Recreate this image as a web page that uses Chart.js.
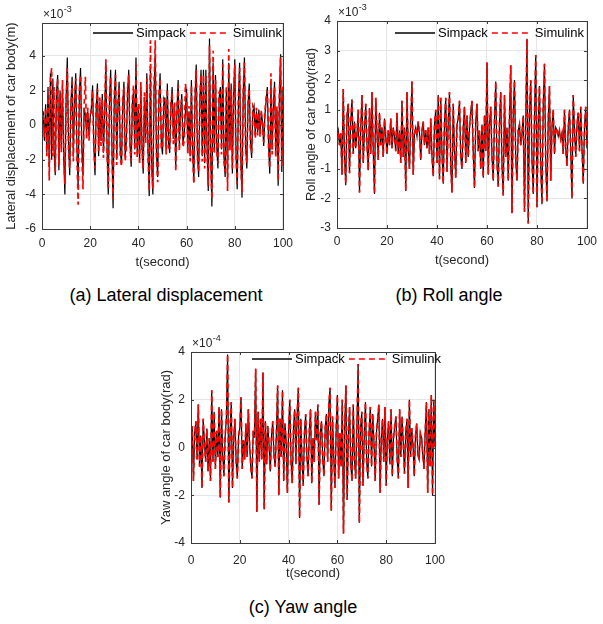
<!DOCTYPE html>
<html><head><meta charset="utf-8">
<script src="https://cdn.jsdelivr.net/npm/chart.js@4"></script>
<style>
html,body{margin:0;padding:0;background:#fff;width:603px;height:624px;overflow:hidden;}
.box{position:absolute;}
.cap{position:absolute;font-family:'Liberation Sans Narrow','Liberation Sans',Arial,sans-serif;font-size:18px;line-height:20px;color:#000;white-space:nowrap;transform:translateX(-50%);}
</style></head><body>
<div class="box" style="left:0;top:0;width:300px;height:275px"><canvas id="ca"></canvas></div>
<div class="box" style="left:300px;top:0;width:303px;height:275px"><canvas id="cb"></canvas></div>
<div class="box" style="left:155px;top:320px;width:300px;height:265px"><canvas id="cc"></canvas></div>
<div class="cap" style="left:166px;top:285px">(a) Lateral displacement</div>
<div class="cap" style="left:449px;top:285px">(b) Roll angle</div>
<div class="cap" style="left:303px;top:597px">(c) Yaw angle</div>
<script>
// time axis: samples every 0.5 s from 0 to 100 s
const timeStep = 0.5;
const xTicks = [0, 20, 40, 60, 80, 100];
const legendLabels = ['Simpack', 'Simulink'];

// (a) lateral displacement, x10^-3 m
const aTicks = [-6, -4, -2, 0, 2, 4];
const aSimpack = [
 0, 0.8, -0.9, 1.2, -1.6, 2.2, -2.4, 3.0, -2.0, 2.7, -1.5, -2.9, 1.8, 2.9, -2.6, 2.0, -1.2, 2.3, -1.8, -4.0,
 1.5, 3.9, -1.0, -2.9, 1.2, 2.8, -1.8, 1.2, 3.0, -1.4, -3.5, 1.8, 3.3, -1.2, -2.9, 1.0, 0.6, -0.4, 0.8, -0.6,
 0.5, 1.0, 2.3, -1.2, -2.9, 1.0, 2.4, -1.8, 1.3, -0.9, 1.8, -1.6, 0.6, 3.6, -1.4, -4.0, 1.4, 3.2, -1.2, -4.8,
 1.5, 3.2, -2.0, 1.0, 2.5, -1.6, -2.2, 1.2, 2.5, -1.8, -1.0, 1.8, 3.2, -1.0, -2.4, 1.2, 2.0, -1.4, 3.9, -1.6,
 1.0, -2.0, 2.2, -1.2, -2.8, 1.6, -0.8, 3.0, -1.5, -4.1, 3.5, -2.2, -4.0, 2.0, 4.1, -1.6, -3.0, 1.4, 3.0, -1.0,
 -1.7, 1.2, 1.6, -1.4, 2.4, -1.0, -1.6, 1.0, 2.2, -0.8, 1.0, -2.4, 0.8, 2.6, -1.2, 0.8, 1.8, -1.0, -0.6, 0.8,
 2.1, -1.4, 0.8, -1.8, 2.6, -1.4, -3.3, 1.6, 3.5, -1.6, -3.0, 1.4, 3.2, -1.8, 3.2, -2.2, 3.2, -1.4, -3.8, 5.0,
 -1.8, -4.7, 3.6, -1.4, 2.9, -1.2, -2.5, 1.6, 2.2, -1.4, 3.8, -1.8, -3.0, 2.0, -3.2, 3.6, -1.2, 2.4, -2.8, 1.6,
 3.8, -1.6, -3.7, 1.4, 3.6, -2.0, -4.2, 1.8, 3.9, -1.2, -2.5, 1.2, 2.4, -1.0, -1.9, 0.8, 1.1, -0.6, 0.8, -0.4,
 0.9, -0.5, 0.7, 0.2, -1.2, 0.6, 1.4, 2.2, -1.0, -2.8, 2.4, -1.4, 1.0, 2.5, -1.6, 0.8, -3.5, 1.6, 4.1, -2.7,
 2.1
];
const aSimulink = [
 0.1, 0.6, -0.7, 1.0, -1.8, 1.9, -3.2, 2.6, 3.3, -1.8, 2.2, -2.7, 1.5, 2.7, -2.3, 1.8, -1.6, 2.6, -1.4, -3.4,
 1.2, 3.3, -1.4, -2.5, 1.0, 2.5, -2.1, 1.4, 2.7, -1.8, -4.6, 2.0, 2.9, -1.6, -3.7, 1.2, 2.8, -0.8, 1.0, -0.9,
 0.6, 0.8, 2.0, -1.4, -2.5, 1.2, 2.1, -1.5, 1.6, -1.2, 1.5, -1.9, 0.8, 3.8, -1.6, -3.6, 1.7, 2.8, -1.5, -4.3,
 1.8, 2.9, -2.3, 1.3, 2.2, -1.9, -2.4, 1.5, 2.2, -2.1, -1.3, 2.1, 2.9, -1.3, -2.1, 1.5, 2.3, -1.7, 3.5, -1.9,
 1.3, -2.3, 2.5, -1.5, -2.5, 1.9, -1.1, 2.7, -1.8, -3.8, 4.9, -2.5, -3.7, 2.3, 4.9, -1.9, -3.3, 1.7, 2.7, -1.3,
 -1.4, 1.5, 1.3, -1.7, 2.1, -1.3, -1.3, 1.3, 1.9, -1.1, 1.3, -2.7, 1.1, 2.3, -1.5, 1.1, 1.5, -1.3, -0.9, 2.4,
 1.8, -1.7, 1.1, -2.1, 2.3, -1.7, -3.4, 1.9, 3.2, -1.9, -2.7, 1.7, 2.9, -2.1, 2.9, -2.5, 2.9, -1.7, -3.5, 4.6,
 -2.1, -4.3, 4.3, -1.7, 2.6, -1.5, -2.2, 1.9, 1.9, -1.7, 3.5, -2.1, -2.7, 2.3, -3.8, 4.4, -1.5, 2.1, -2.5, 1.9,
 3.5, -1.9, -3.4, 1.7, 3.3, -2.3, -3.9, 2.1, 3.6, -1.5, -2.2, 1.5, 2.1, -1.3, -1.6, 1.1, 0.9, -0.8, 1.0, -0.6,
 0.7, -0.7, 0.9, 0.0, -1.0, 0.8, 1.6, 2.0, -1.3, -2.5, 3.0, -1.7, 1.3, 2.2, -1.9, 1.1, -3.2, 1.9, 3.9, -2.4,
 2.3
];

// (b) roll angle, x10^-3 rad
const bTicks = [-3, -2, -1, 0, 1, 2, 3, 4];
const bSimpack = [
 0.1, 0.3, -0.2, 0.2, -1.2, 1.7, -0.6, -1.55, 0.8, 1.2, -1.15, 0.6, 1.35, -0.5, 0.6, -0.3, 0.2, 1.0, -1.8, 0.4,
 1.5, -0.8, 0.3, 1.2, -0.2, -1.05, 1.05, -0.5, 1.6, -0.4, -1.85, 1.4, 0.2, -0.7, 0.9, -0.2, 0.4, -0.6, 0.7, 0.1,
 -0.5, 0.3, -0.2, 0.7, -0.3, 0.4, 0.1, -0.4, 0.9, -0.5, 0.3, -0.8, 1.3, -0.6, 0.4, -1.75, 1.6, -0.4, -1.0, 0.6,
 1.95, -1.2, 0.2, 0.4, 0.1, 0.6, 0.2, -0.7, 0.3, 0.6, -0.2, 0.3, -0.3, 0.4, -0.5, 0.7, -0.6, -1.25, 0.5, 1.0,
 -0.8, 1.5, -1.35, 1.4, -0.5, -1.5, 0.6, 1.4, -1.1, 0.6, 1.6, -0.9, -1.8, 1.2, -0.4, -1.3, 0.5, 0.7, 1.3, -0.6,
 -1.0, 0.4, 1.1, -0.8, 0.8, -0.6, 0.4, 0.9, 1.3, -0.5, -1.65, 0.6, 1.2, -0.4, 0.3, -1.0, 0.5, -1.3, 0.8, -0.4,
 2.6, -1.2, 0.5, 1.1, -0.6, -1.4, 0.7, 1.95, -0.8, -1.6, 0.6, 1.6, -0.9, -1.9, 1.5, -0.6, 0.4, -1.4, 0.8, 2.5,
 -2.5, 0.9, 2.0, -0.7, -1.4, 0.3, 0.5, -0.2, 0.2, 0.8, -2.45, 0.6, 3.4, -2.85, 0.9, 2.0, -0.7, -1.85, 0.8, 2.85,
 -2.3, 0.5, 1.8, -0.9, -2.2, 1.2, 2.55, -0.8, -2.1, 0.7, 1.8, -1.4, 0.4, 1.0, -0.5, 0.4, 0.3, 0.1, 0.3, 0.0,
 0.2, -0.5, 1.0, -0.3, -0.9, 0.4, 1.0, -0.4, -2.0, 1.5, 0.3, -0.6, 0.5, 0.9, -0.4, 1.1, -0.3, -1.5, 0.4, 1.1,
 -0.3
];
const bSimulink = [
 0.1, 0.3, -0.2, 0.25, -1.2, 1.7, -0.6, -1.5, 0.8, 1.2, -1.15, 0.6, 1.3, -0.5, 0.6, -0.3, 0.2, 1.0, -1.8, 0.4,
 1.5, -0.8, 0.3, 1.2, -0.2, -1.05, 1.05, -0.5, 1.6, -0.4, -1.85, 1.4, 0.2, -0.7, 0.9, -0.2, 0.4, -0.6, 0.7, 0.1,
 -0.5, 0.3, -0.2, 0.7, -0.3, 0.4, 0.1, -0.4, 0.9, -0.5, 0.3, -0.8, 1.3, -0.6, 0.4, -1.75, 1.6, -0.4, -1.0, 0.6,
 1.95, -1.2, 0.2, 0.4, 0.1, 0.6, 0.2, -0.7, 0.3, 0.6, -0.2, 0.3, -0.3, 0.4, -0.5, 0.7, -0.6, -1.25, 0.5, 1.0,
 -0.8, 1.5, -1.35, 1.4, -0.5, -1.5, 0.6, 1.4, -1.1, 0.6, 1.6, -0.9, -1.8, 1.2, -0.4, -1.3, 0.5, 0.7, 1.3, -0.6,
 -1.0, 0.4, 1.1, -0.8, 0.8, -0.6, 0.4, 0.9, 1.3, -0.5, -1.65, 0.6, 1.2, -0.4, 0.3, -1.0, 0.5, -1.3, 0.8, -0.4,
 2.6, -1.2, 0.5, 1.1, -0.6, -1.4, 0.7, 1.95, -0.8, -1.6, 0.6, 1.6, -0.9, -1.9, 1.5, -0.6, 0.4, -1.4, 0.8, 2.5,
 -2.5, 0.9, 2.0, -0.7, -1.4, 0.3, 0.5, -0.2, 0.2, 0.8, -2.45, 0.6, 3.4, -2.85, 0.9, 2.0, -0.7, -1.85, 0.8, 2.85,
 -2.3, 0.5, 1.8, -0.9, -2.2, 1.2, 2.55, -0.8, -2.1, 0.7, 1.8, -1.4, 0.4, 1.0, -0.5, 0.4, 0.3, 0.1, 0.3, 0.0,
 0.2, -0.5, 1.0, -0.3, -0.9, 0.4, 1.0, -0.4, -2.0, 1.5, 0.3, -0.6, 0.5, 0.9, -0.4, 1.1, -0.3, -1.5, 0.4, 1.1,
 -0.3
];

// (c) yaw angle, x10^-4 rad
const cTicks = [-4, -2, 0, 2, 4];
const cSimpack = [
 0.0, 0.9, -1.4, 0.6, 1.1, -0.5, 1.8, -0.8, 0.5, -1.7, 1.2, 0.2, -0.6, 0.8, -1.0, 0.4, -1.4, 2.4, -0.6, 1.5,
 -0.9, 0.7, -0.4, 1.7, -2.1, 1.6, -0.3, -1.2, 0.5, 1.2, 3.9, -2.3, 0.6, 1.9, -1.7, 0.4, 1.2, -0.6, -1.3, 0.5,
 0.8, 2.1, -0.9, 0.3, -0.5, 1.0, -0.4, 1.6, 0.2, -0.8, -1.3, 0.7, 0.4, 3.3, -2.7, 1.5, -0.6, 1.2, -0.5, 3.15,
 -2.6, 1.1, -0.7, 0.9, 0.1, -1.0, 0.5, 1.1, -0.3, -0.8, 0.6, 2.6, -2.0, 1.2, -0.4, 2.4, -1.4, 1.0, 0.3, -1.9,
 0.7, 2.0, -0.6, -1.5, 0.8, 1.6, -0.7, 1.4, 2.5, -2.95, 1.2, -0.5, -1.6, 0.6, 1.4, -0.4, -1.2, 0.7, 1.6, -1.5,
 0.4, -0.6, 1.5, 0.3, 1.8, -2.4, 0.6, 1.1, -0.5, -1.2, 0.8, 1.4, -0.6, 1.8, 2.5, -2.65, 1.3, -0.4, -1.7, 0.8,
 2.2, -1.3, 0.6, -0.8, 2.0, -3.6, 0.9, 2.6, -2.2, 0.5, 1.7, -0.7, -1.4, 1.8, -0.5, -1.3, 0.9, 3.5, -3.15, 0.8,
 1.5, -1.6, 0.4, 1.9, -0.6, -1.3, 0.7, 1.7, -0.8, 1.4, 0.2, -1.4, 0.6, 1.2, 1.8, -1.9, 0.4, 1.2, -0.6, 1.7,
 -1.6, 0.5, 1.1, -0.7, 1.6, -1.2, 0.4, 0.9, 1.3, -0.5, -1.3, 1.6, -0.4, 1.3, 0.2, -1.1, 0.6, 1.2, -1.7, 2.0,
 -0.4, 0.8, 0.1, -1.2, 0.5, 1.0, -0.3, -0.5, 0.6, 0.4, -0.3, -0.9, 0.7, 1.9, -1.9, 1.6, -0.8, 2.2, -2.0, 2.0,
 0.0
];
const cSimulink = [
 0.0, 0.9, -1.4, 0.6, 1.1, -0.5, 1.8, -0.8, 0.5, -1.7, 1.2, 0.2, -0.6, 0.8, -1.0, 0.4, -1.4, 2.4, -0.6, 1.5,
 -0.9, 0.7, -0.4, 1.7, -2.1, 1.6, -0.3, -1.2, 0.5, 1.2, 3.9, -2.3, 0.6, 1.9, -1.7, 0.4, 1.2, -0.6, -1.3, 0.5,
 0.8, 2.1, -0.9, 0.3, -0.5, 1.0, -0.4, 1.6, 0.2, -0.8, -1.3, 0.7, 0.4, 3.3, -2.7, 1.5, -0.6, 1.2, -0.5, 3.15,
 -2.6, 1.1, -0.7, 0.9, 0.1, -1.0, 0.5, 1.1, -0.3, -0.8, 0.6, 2.6, -2.0, 1.2, -0.4, 2.4, -1.4, 1.0, 0.3, -1.9,
 0.7, 2.0, -0.6, -1.5, 0.8, 1.6, -0.7, 1.4, 2.5, -2.95, 1.2, -0.5, -1.6, 0.6, 1.4, -0.4, -1.2, 0.7, 1.6, -1.5,
 0.4, -0.6, 1.5, 0.3, 1.8, -2.4, 0.6, 1.1, -0.5, -1.2, 0.8, 1.4, -0.6, 1.8, 2.5, -2.65, 1.3, -0.4, -1.7, 0.8,
 2.2, -1.3, 0.6, -0.8, 2.0, -3.6, 0.9, 2.6, -2.2, 0.5, 1.7, -0.7, -1.4, 1.8, -0.5, -1.3, 0.9, 3.5, -3.15, 0.8,
 1.5, -1.6, 0.4, 1.9, -0.6, -1.3, 0.7, 1.7, -0.8, 1.4, 0.2, -1.4, 0.6, 1.2, 1.8, -1.9, 0.4, 1.2, -0.6, 1.7,
 -1.6, 0.5, 1.1, -0.7, 1.6, -1.2, 0.4, 0.9, 1.3, -0.5, -1.3, 1.6, -0.4, 1.3, 0.2, -1.1, 0.6, 1.2, -1.7, 2.0,
 -0.4, 0.8, 0.1, -1.2, 0.5, 1.0, -0.3, -0.5, 0.6, 0.4, -0.3, -0.9, 0.7, 1.9, -1.9, 1.6, -0.8, 2.2, -2.0, 2.0,
 0.0
];

const FONT = "'Liberation Sans', Arial, Helvetica, sans-serif";
const AXC = '#262626';

const framePlugin = {
  id: 'frame',
  afterDraw(chart, args, o) {
    const {ctx, chartArea: a} = chart;
    const xs = chart.scales.x, ys = chart.scales.y;
    ctx.save();
    ctx.strokeStyle = '#3a3a3a';
    ctx.lineWidth = 1;
    ctx.beginPath();
    xs.ticks.forEach(t => {
      const p = Math.round(xs.getPixelForValue(t.value)) + 0.5;
      ctx.moveTo(p, a.bottom); ctx.lineTo(p, a.bottom - 3);
      ctx.moveTo(p, a.top); ctx.lineTo(p, a.top + 3);
    });
    ys.ticks.forEach(t => {
      const p = Math.round(ys.getPixelForValue(t.value)) + 0.5;
      ctx.moveTo(a.left, p); ctx.lineTo(a.left + 3, p);
      ctx.moveTo(a.right, p); ctx.lineTo(a.right - 3, p);
    });
    ctx.stroke();
    ctx.strokeRect(Math.round(a.left) + 0.5, Math.round(a.top) + 0.5,
                   Math.round(a.right - a.left), Math.round(a.bottom - a.top));
    // exponent label
    ctx.fillStyle = AXC;
    ctx.textBaseline = 'middle';
    ctx.textAlign = 'left';
    ctx.font = '12px ' + FONT;
    const ex = a.left + 1, ey = a.top - 8;
    ctx.fillText('\u00d710', ex, ey);
    const w = ctx.measureText('\u00d710').width;
    ctx.font = '9px ' + FONT;
    ctx.fillText(o.exp, ex + w + 0.5, ey - 5);
    // legend
    const ly = a.top + o.ldy;
    let lx = a.left + o.ldx;
    ctx.font = '13px ' + FONT;
    ctx.fillStyle = '#000';
    ctx.lineWidth = 1.6;
    ctx.strokeStyle = '#000';
    ctx.setLineDash([]);
    ctx.beginPath(); ctx.moveTo(lx, ly); ctx.lineTo(lx + 40, ly); ctx.stroke();
    ctx.fillText(legendLabels[0], lx + 43, ly);
    lx = lx + 43 + ctx.measureText(legendLabels[0]).width + 4;
    ctx.strokeStyle = '#ff0000';
    ctx.setLineDash([6, 4]);
    ctx.beginPath(); ctx.moveTo(lx, ly); ctx.lineTo(lx + 40, ly); ctx.stroke();
    ctx.setLineDash([]);
    ctx.fillText(legendLabels[1], lx + 43, ly);
    ctx.restore();
  }
};

function series(vals) {
  return vals.map((v, i) => ({x: i * timeStep, y: v}));
}

function makeChart(id, c) {
  new Chart(document.getElementById(id), {
    type: 'line',
    data: {datasets: [
      {label: legendLabels[1], data: series(c.red), borderColor: '#ff0000', borderWidth: 1.7,
       borderDash: [5, 4], pointRadius: 0, tension: 0, order: 0},
      {label: legendLabels[0], data: series(c.black), borderColor: '#000000', borderWidth: 1.2,
       pointRadius: 0, tension: 0, order: 1}
    ]},
    plugins: [framePlugin],
    options: {
      responsive: true, maintainAspectRatio: false, animation: false, events: [],
      layout: {padding: {left: 0, top: c.pt, right: c.pr, bottom: 0}},
      plugins: {legend: {display: false}, tooltip: {enabled: false},
                frame: {exp: c.exp, ldx: c.ldx, ldy: c.ldy}},
      scales: {
        x: {type: 'linear', min: 0, max: 100,
            afterBuildTicks: s => { s.ticks = xTicks.map(v => ({value: v})); },
            afterFit: s => { s.height = c.xh; },
            grid: {color: '#e6e6e6', drawTicks: false},
            border: {display: false},
            ticks: {padding: c.xpad, maxRotation: 0, color: AXC, font: {family: FONT, size: 12},
                    callback: v => String(v)},
            title: {display: true, text: 't(second)', color: AXC, font: {family: FONT, size: 13},
                    padding: {top: 0, bottom: c.xtb}}},
        y: {type: 'linear', min: c.ymin, max: c.ymax,
            afterBuildTicks: s => { s.ticks = c.ticks.map(v => ({value: v})); },
            afterFit: s => { s.width = c.yw; },
            grid: {color: '#e6e6e6', drawTicks: false},
            border: {display: false},
            ticks: {padding: 6, color: AXC, font: {family: FONT, size: 12}, callback: v => String(v)},
            title: {display: true, text: c.ytitle, color: AXC, font: {family: FONT, size: 13},
                    padding: {top: 4, bottom: 0}}}
      }
    }
  });
}

makeChart('ca', {black: aSimpack, red: aSimulink, ticks: aTicks, ymin: -6, ymax: 5.9,
  ytitle: 'Lateral displacement of car body(m)', exp: '-3',
  pt: 23, pr: 9, yw: 42, xh: 46, xpad: 7, xtb: 5, ldx: 51, ldy: 10});
makeChart('cb', {black: bSimpack, red: bSimulink, ticks: bTicks, ymin: -3, ymax: 4,
  ytitle: 'Roll angle of car body(rad)', exp: '-3',
  pt: 21, pr: 8, yw: 37, xh: 47, xpad: 6, xtb: 7, ldx: 58, ldy: 12});
makeChart('cc', {black: cSimpack, red: cSimulink, ticks: cTicks, ymin: -4, ymax: 4,
  ytitle: 'Yaw angle of car body(rad)', exp: '-4',
  pt: 32, pr: 8, yw: 36, xh: 42, xpad: 10, xtb: 4, ldx: 61, ldy: 7});
</script>
</body></html>
